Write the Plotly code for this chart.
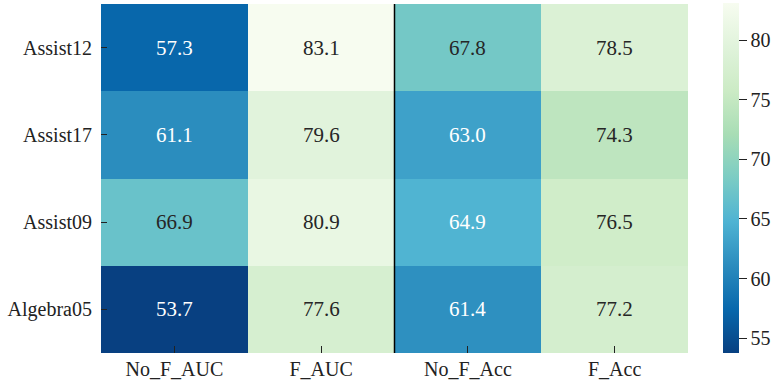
import plotly.graph_objects as go
import numpy as np

rows = ["Assist12", "Assist17", "Assist09", "Algebra05"]
cols = ["No_F_AUC", "F_AUC", "No_F_Acc", "F_Acc"]
no_f_auc = [57.3, 61.1, 66.9, 53.7]
f_auc = [83.1, 79.6, 80.9, 77.6]
no_f_acc = [67.8, 63.0, 64.9, 61.4]
f_acc = [78.5, 74.3, 76.5, 77.2]
cbar_ticks = [55, 60, 65, 70, 75, 80]

z = np.array([no_f_auc, f_auc, no_f_acc, f_acc]).T  # rows x cols

gnbu = ['#f7fcf0', '#e0f3db', '#ccebc5', '#a8ddb5', '#7bccc4',
        '#4eb3d3', '#2b8cbe', '#0868ac', '#084081']
gnbu_r = gnbu[::-1]
n = len(gnbu_r)
colorscale = [[i / (n - 1), c] for i, c in enumerate(gnbu_r)]

zmin, zmax = float(z.min()), float(z.max())

def hex2rgb(h):
    h = h.lstrip('#')
    return np.array([int(h[i:i + 2], 16) for i in (0, 2, 4)]) / 255.0

def color_at(v):
    t = (v - zmin) / (zmax - zmin) * (n - 1)
    i = int(min(np.floor(t), n - 2))
    f = t - i
    return hex2rgb(gnbu_r[i]) * (1 - f) + hex2rgb(gnbu_r[i + 1]) * f

def lum(rgb):
    c = np.where(rgb <= 0.03928, rgb / 12.92, ((rgb + 0.055) / 1.055) ** 2.4)
    return 0.2126 * c[0] + 0.7152 * c[1] + 0.0722 * c[2]

FONT = "Liberation Serif"

fig = go.Figure(go.Heatmap(
    z=z, x=cols, y=rows, colorscale=colorscale, zmin=zmin, zmax=zmax,
    xgap=0, ygap=0,
    colorbar=dict(
        thickness=16, lenmode="pixels", len=350, x=1.0595, xanchor="left", xpad=0,
        y=0.5, yanchor="middle", ypad=0, outlinewidth=0,
        tickvals=cbar_ticks, ticks="outside", ticklen=8, tickwidth=1.4, tickcolor="#222",
        tickfont=dict(family=FONT, size=20, color="#222"),
    ),
    hoverinfo="skip",
))

annotations = []
for i, r in enumerate(rows):
    for j, c in enumerate(cols):
        v = z[i, j]
        col = "#262626" if lum(color_at(v)) > 0.408 else "white"
        annotations.append(dict(x=c, y=r, text=f"{v:.1f}", showarrow=False,
                                font=dict(family=FONT, size=21, color=col)))

fig.add_shape(type="line", x0=len(cols) / 2 - 0.5, x1=len(cols) / 2 - 0.5,
              y0=0, y1=1, yref="paper", line=dict(color="black", width=1.5))

fig.update_layout(
    width=780, height=387,
    margin=dict(l=101, r=92, t=4, b=34, autoexpand=False),
    paper_bgcolor="white", plot_bgcolor="white",
    annotations=annotations,
    font=dict(family=FONT),
    xaxis=dict(showgrid=False, zeroline=False, ticks="inside", ticklen=7, tickwidth=1.3,
               tickcolor="#222", tickfont=dict(family=FONT, size=20, color="#222"),
               showline=False, automargin=False, ticklabelstandoff=2),
    yaxis=dict(showgrid=False, zeroline=False, autorange="reversed", ticks="inside",
               ticklen=6, tickwidth=1.4, tickcolor="#222",
               tickfont=dict(family=FONT, size=20, color="#222"), showline=False,
               automargin=False, ticklabelstandoff=8),
)

fig.write_html("out.html", config={"displayModeBar": False},
               post_script="document.body.style.margin='0';document.body.style.overflow='hidden';")
